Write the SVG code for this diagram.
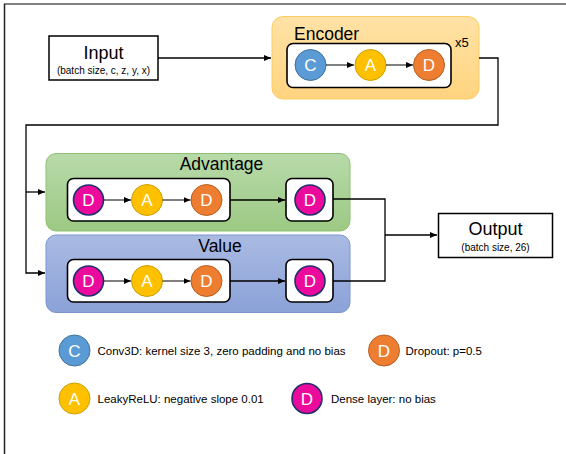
<svg xmlns="http://www.w3.org/2000/svg" width="566" height="454" viewBox="0 0 566 454">
<style>
text{font-family:"Liberation Sans",Arial,sans-serif;}
.lbl{fill:#000;text-anchor:middle;}
.big{font-size:18px;}
.sub{font-size:10px;}
.leg{font-size:11.5px;fill:#000;}
.box{fill:#fff;stroke:#000;stroke-width:1.5;}
.inner{fill:#fff;stroke:#000;stroke-width:1.6;}
.ltr{fill:#fff;font-size:17px;text-anchor:middle;}
.cC{fill:#5B9BD5;stroke:#41719C;stroke-width:1;}
.cA{fill:#FFC000;stroke:#C9A000;stroke-width:1;}
.cO{fill:#ED7D31;stroke:#B85F22;stroke-width:1;}
.cD{fill:#EC0A9C;stroke:#1F2F6E;stroke-width:1.6;}
.con{fill:none;stroke:#000;stroke-width:1.3;}
.sm{fill:none;stroke:#000;stroke-width:1;}
</style>
<defs>
<linearGradient id="gEnc" x1="0" y1="0" x2="0" y2="1"><stop offset="0" stop-color="#FFE2A6"/><stop offset="1" stop-color="#FFD47F"/></linearGradient>
<linearGradient id="gAdv" x1="0" y1="0" x2="0" y2="1"><stop offset="0" stop-color="#B8DAAA"/><stop offset="1" stop-color="#9CC983"/></linearGradient>
<linearGradient id="gVal" x1="0" y1="0" x2="0" y2="1"><stop offset="0" stop-color="#AABAE2"/><stop offset="1" stop-color="#8BA2D8"/></linearGradient>
<marker id="ar" markerUnits="userSpaceOnUse" markerWidth="8" markerHeight="8" viewBox="0 0 8 8" refX="7" refY="4" orient="auto"><path d="M0,1 L7,4 L0,7 Z" fill="#000"/></marker>
</defs>
<rect width="566" height="454" fill="#fff"/>
<line x1="4" y1="4" x2="566" y2="4" stroke="#808080" stroke-width="2"/>
<line x1="4.5" y1="4" x2="4.5" y2="454" stroke="#222" stroke-width="1.5"/>

<g id="input">
<rect class="box" x="49" y="36" width="109" height="44"/>
<text class="lbl big" x="103.5" y="59">Input</text>
<text class="lbl sub" x="103.5" y="74">(batch size, c, z, y, x)</text>
</g>

<g id="encoder">
<rect x="272" y="16.5" width="207" height="82.5" rx="11" fill="url(#gEnc)" stroke="#FFCB62" stroke-width="1"/>
<text x="294" y="40" font-size="17.5" fill="#000">Encoder</text>
<text x="455" y="47" font-size="13" fill="#000">x5</text>
<rect class="inner" x="287" y="43.5" width="164" height="44" rx="6"/>
<circle class="cC" cx="310.5" cy="65" r="15.5"/><text class="ltr" x="310.5" y="71">C</text>
<circle class="cA" cx="370.5" cy="65" r="15.5"/><text class="ltr" x="370.5" y="71">A</text>
<circle class="cO" cx="429" cy="65" r="15.5"/><text class="ltr" x="429" y="71">D</text>
</g>

<g id="advantage">
<rect x="46" y="153.5" width="304" height="77.5" rx="10" fill="url(#gAdv)" stroke="#8DC172" stroke-width="1"/>
<text class="lbl" x="221.5" y="170" font-size="17.5">Advantage</text>
<rect class="inner" x="67.5" y="178.5" width="162.5" height="42.5" rx="6"/>
<rect class="inner" x="286" y="178.5" width="47" height="42.5" rx="6"/>
<circle class="cD" cx="88.5" cy="200" r="15"/><text class="ltr" x="88.5" y="206">D</text>
<circle class="cA" cx="147" cy="200" r="15.5"/><text class="ltr" x="147" y="206">A</text>
<circle class="cO" cx="206.5" cy="200" r="15.5"/><text class="ltr" x="206.5" y="206">D</text>
<circle class="cD" cx="310" cy="200" r="15"/><text class="ltr" x="310" y="206">D</text>
</g>

<g id="value">
<rect x="46" y="235" width="304" height="77.5" rx="10" fill="url(#gVal)" stroke="#7A96D0" stroke-width="1"/>
<text class="lbl" x="220" y="251.5" font-size="17.5">Value</text>
<rect class="inner" x="67.5" y="259.5" width="162.5" height="42.5" rx="6"/>
<rect class="inner" x="286" y="259.5" width="47" height="42.5" rx="6"/>
<circle class="cD" cx="88.5" cy="281" r="15"/><text class="ltr" x="88.5" y="287">D</text>
<circle class="cA" cx="147" cy="281" r="15.5"/><text class="ltr" x="147" y="287">A</text>
<circle class="cO" cx="206.5" cy="281" r="15.5"/><text class="ltr" x="206.5" y="287">D</text>
<circle class="cD" cx="310" cy="281" r="15"/><text class="ltr" x="310" y="287">D</text>
</g>

<g id="output">
<rect class="box" x="438.5" y="213.5" width="114" height="44"/>
<text class="lbl big" x="495.5" y="235">Output</text>
<text class="lbl sub" x="495.5" y="251">(batch size, 26)</text>
</g>

<g id="legend">
<circle class="cC" cx="74.5" cy="350.5" r="15.5"/><text class="ltr" x="74.5" y="356.5">C</text>
<text class="leg" x="97.5" y="354.5">Conv3D: kernel size 3, zero padding and no bias</text>
<circle class="cO" cx="384" cy="350.5" r="15.5"/><text class="ltr" x="384" y="356.5">D</text>
<text class="leg" x="405.5" y="354.5">Dropout: p=0.5</text>
<circle class="cA" cx="74.5" cy="398.5" r="15.5"/><text class="ltr" x="74.5" y="404.5">A</text>
<text class="leg" x="97.5" y="402.5">LeakyReLU: negative slope 0.01</text>
<circle class="cD" cx="307" cy="398.5" r="15"/><text class="ltr" x="307" y="404.5">D</text>
<text class="leg" x="331" y="402.5">Dense layer: no bias</text>
</g>

<g id="connectors">
<line class="con" x1="158" y1="58" x2="271" y2="58" marker-end="url(#ar)"/>
<polyline class="con" points="479,58 498,58 498,125 26,125 26,273 45,273" marker-end="url(#ar)"/>
<polyline class="con" points="26,192 45,192" marker-end="url(#ar)"/>
<line class="sm" x1="326" y1="65" x2="354" y2="65" marker-end="url(#ar)"/>
<line class="sm" x1="386" y1="65" x2="413" y2="65" marker-end="url(#ar)"/>
<line class="sm" x1="103.5" y1="200" x2="131" y2="200" marker-end="url(#ar)"/>
<line class="sm" x1="162.5" y1="200" x2="190.5" y2="200" marker-end="url(#ar)"/>
<line class="con" x1="230" y1="200" x2="285" y2="200" marker-end="url(#ar)"/>
<line class="sm" x1="103.5" y1="281" x2="131" y2="281" marker-end="url(#ar)"/>
<line class="sm" x1="162.5" y1="281" x2="190.5" y2="281" marker-end="url(#ar)"/>
<line class="con" x1="230" y1="281" x2="285" y2="281" marker-end="url(#ar)"/>
<polyline class="con" points="333,199 385,199 385,281 333,281"/>
<line class="con" x1="385" y1="235" x2="437" y2="235" marker-end="url(#ar)"/>
</g>
</svg>
